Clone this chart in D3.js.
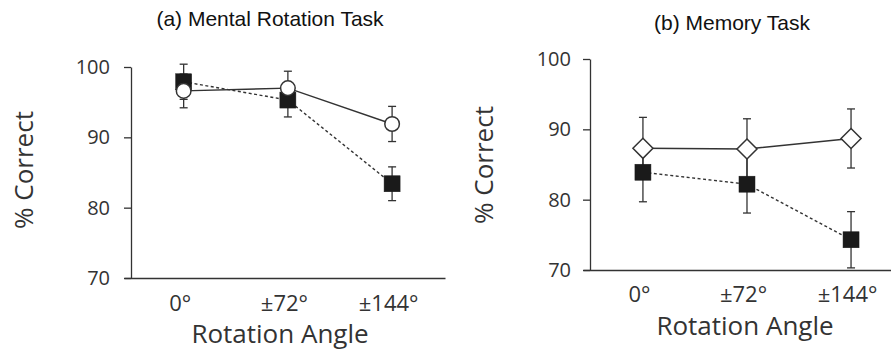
<!DOCTYPE html>
<html><head><meta charset="utf-8">
<script src="https://cdn.jsdelivr.net/npm/d3@7"></script>
<style>body{margin:0;background:#fff}svg{display:block}</style>
</head><body>
<script>
const categories = ["0°", "±72°", "±144°"];
const yTicks = [70, 80, 90, 100];
// (a) Mental Rotation Task
const aSquareMean = [97.9, 95.3, 83.4];
const aSquareErr  = [2.5, 2.4, 2.4];
const aCircleMean = [96.6, 97.0, 91.9];
const aCircleErr  = [2.4, 2.4, 2.5];
// (b) Memory Task
const bDiamondMean = [87.3, 87.2, 88.7];
const bDiamondErr  = [4.4, 4.3, 4.2];
const bSquareMean  = [83.9, 82.2, 74.3];
const bSquareErr   = [4.2, 4.1, 4.0];

const W = 891, H = 350;
const svg = d3.select("body").append("svg").attr("width", W).attr("height", H);
const ink = "#333";
const tickFont = "Open Sans, sans-serif";

function panel(cfg) {
  const g = svg.append("g");
  const y = d3.scaleLinear().domain([70, 100]).range([cfg.yBottom, cfg.yTop]);
  const x = d3.scalePoint().domain(categories).range([cfg.axisX - 7, cfg.right])
    .padding(cfg.pad).align(cfg.align);

  const ya = g.append("g").attr("transform", `translate(${cfg.axisX},0)`)
    .call(d3.axisLeft(y).tickValues(yTicks).tickSize(7).tickSizeOuter(0).tickPadding(cfg.yPad));
  ya.select(".domain").attr("stroke", ink).attr("stroke-width", 1.3);
  ya.selectAll(".tick line").attr("stroke", ink).attr("stroke-width", 1.3);
  ya.selectAll("text").attr("font-family", tickFont).attr("font-size", 20).attr("fill", "#333");

  const xa = g.append("g").attr("transform", `translate(0,${cfg.yBottom})`)
    .call(d3.axisBottom(x).tickSize(0).tickSizeOuter(0).tickPadding(cfg.xPad));
  xa.select(".domain").attr("stroke", ink).attr("stroke-width", 1.3);
  xa.selectAll("text").attr("font-family", tickFont).attr("font-size", 22).attr("fill", "#333")
    .attr("dx", -4);

  g.append("text").attr("x", cfg.titleX).attr("y", cfg.titleY).attr("text-anchor", "middle")
    .attr("font-family", "Liberation Sans, Arial, sans-serif").attr("font-size", 21).attr("fill", "#111")
    .text(cfg.title);
  g.append("text").attr("x", cfg.xLabelX).attr("y", cfg.xLabelY).attr("text-anchor", "middle")
    .attr("font-family", tickFont).attr("font-size", 26).attr("fill", "#333").text("Rotation Angle");
  g.append("text").attr("transform", `translate(${cfg.yLabelX},${cfg.yLabelY}) rotate(-90)`)
    .attr("text-anchor", "middle").attr("font-family", tickFont).attr("font-size", 26).attr("fill", "#333")
    .text("% Correct");

  cfg.series.forEach(s => {
    const pts = categories.map((c, i) => ({c, m: s.mean[i], e: s.err[i]}));
    const line = d3.line().x(d => x(d.c)).y(d => y(d.m));
    g.append("path").datum(pts).attr("d", line).attr("fill", "none").attr("stroke", ink)
      .attr("stroke-width", 1.4).attr("stroke-dasharray", s.dashed ? "3,2.5" : null);
    pts.forEach(d => {
      const cx = x(d.c), y1 = y(d.m + d.e), y2 = y(d.m - d.e);
      g.append("line").attr("x1", cx).attr("x2", cx).attr("y1", y1).attr("y2", y2)
        .attr("stroke", ink).attr("stroke-width", 1.3);
      [y1, y2].forEach(yy => g.append("line").attr("x1", cx - 4).attr("x2", cx + 4)
        .attr("y1", yy).attr("y2", yy).attr("stroke", ink).attr("stroke-width", 1.3));
    });
  });
  cfg.series.forEach(s => {
    categories.forEach((c, i) => {
      const cx = x(c), cy = y(s.mean[i]);
      if (s.shape === "square") {
        g.append("rect").attr("x", cx - 8).attr("y", cy - 8).attr("width", 16).attr("height", 16)
          .attr("fill", "#1a1a1a").attr("stroke", "#1a1a1a").attr("stroke-width", 0.5);
      } else if (s.shape === "circle") {
        g.append("circle").attr("cx", cx).attr("cy", cy).attr("r", 7.3)
          .attr("fill", "#fff").attr("stroke", ink).attr("stroke-width", 1.5);
      } else {
        g.append("path").attr("d", `M${cx},${cy-10}L${cx+10},${cy}L${cx},${cy+10}L${cx-10},${cy}Z`)
          .attr("fill", "#fff").attr("stroke", ink).attr("stroke-width", 1.5);
      }
    });
  });
}

panel({
  axisX: 131, right: 445, yTop: 67, yBottom: 278, pad: 0.54, align: 0.53,
  yPad: 14, xPad: 17, title: "(a) Mental Rotation Task", titleX: 270, titleY: 26,
  xLabelX: 280, xLabelY: 343, yLabelX: 33, yLabelY: 170,
  series: [
    {shape: "square", dashed: true, mean: aSquareMean, err: aSquareErr},
    {shape: "circle", dashed: false, mean: aCircleMean, err: aCircleErr}
  ]
});
panel({
  axisX: 590, right: 891, yTop: 59, yBottom: 270, pad: 0.48, align: 0.6,
  yPad: 12, xPad: 16, title: "(b) Memory Task", titleX: 732, titleY: 30,
  xLabelX: 745, xLabelY: 335, yLabelX: 493, yLabelY: 165,
  series: [
    {shape: "diamond", dashed: false, mean: bDiamondMean, err: bDiamondErr},
    {shape: "square", dashed: true, mean: bSquareMean, err: bSquareErr}
  ]
});
</script>
</body></html>
